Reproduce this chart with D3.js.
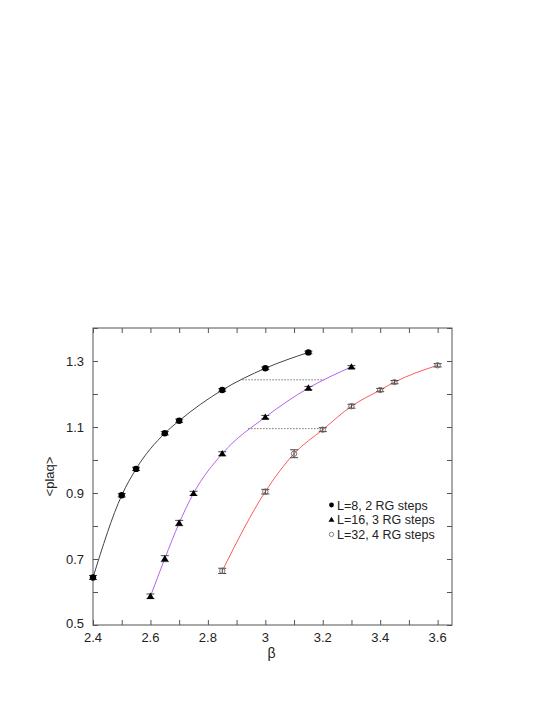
<!DOCTYPE html>
<html><head><meta charset="utf-8">
<script src="https://cdn.jsdelivr.net/npm/d3@7"></script>
<style>body{margin:0;background:#fff}svg{display:block}text{font-family:"Liberation Sans",Arial,sans-serif}</style>
</head><body>
<svg id="c" width="545" height="705"></svg>
<script>
const beta8 = [2.4, 2.5, 2.55, 2.65, 2.7, 2.85, 3.0, 3.15];
const plaq8 = [0.644, 0.893, 0.973, 1.081, 1.119, 1.212, 1.278, 1.326];
const err8  = [0.006, 0.005, 0.005, 0.005, 0.005, 0.004, 0.004, 0.004];
const beta16 = [2.6, 2.65, 2.7, 2.75, 2.85, 3.0, 3.15, 3.3];
const plaq16 = [0.587, 0.701, 0.809, 0.899, 1.019, 1.130, 1.218, 1.282];
const err16  = [0.007, 0.009, 0.008, 0.006, 0.006, 0.005, 0.005, 0.004];
const beta32 = [2.85, 3.0, 3.1, 3.2, 3.3, 3.4, 3.45, 3.6];
const plaq32 = [0.664, 0.904, 1.019, 1.092, 1.163, 1.212, 1.236, 1.287];
const err32  = [0.008, 0.007, 0.012, 0.006, 0.006, 0.005, 0.005, 0.005];
const seriesNames = ["L=8, 2 RG steps", "L=16, 3 RG steps", "L=32, 4 RG steps"];
const xTicks = [2.4, 2.6, 2.8, 3.0, 3.2, 3.4, 3.6];
const yTicks = [0.5, 0.7, 0.9, 1.1, 1.3];
const dotted1 = {y: 1.243, x0: 2.92, x1: 3.205};
const dotted2 = {y: 1.095, x0: 2.94, x1: 3.20};

const svg = d3.select("#c");
const L = 93, R = 452, T = 328, B = 625;
const x = d3.scaleLinear().domain([2.4, 3.65]).range([L, R]);
const y = d3.scaleLinear().domain([0.5, 1.4]).range([B, T]);
const axisCol = "#555";

svg.append("rect").attr("x", L).attr("y", T).attr("width", R - L).attr("height", B - T)
  .attr("fill", "none").attr("stroke", axisCol).attr("stroke-width", 1);

const xt = d3.range(2.4, 3.65, 0.1).map(v => +v.toFixed(2));
const yt = d3.range(0.5, 1.401, 0.1).map(v => +v.toFixed(2));
function styleAx(g){ g.select(".domain").remove(); g.selectAll("line").attr("stroke", axisCol); g.selectAll("text").remove(); }
svg.append("g").attr("transform", `translate(0,${B})`).call(d3.axisTop(x).tickValues(xt).tickSize(5)).call(styleAx);
svg.append("g").attr("transform", `translate(0,${T})`).call(d3.axisBottom(x).tickValues(xt).tickSize(5)).call(styleAx);
svg.append("g").attr("transform", `translate(${L},0)`).call(d3.axisRight(y).tickValues(yt).tickSize(5)).call(styleAx);
svg.append("g").attr("transform", `translate(${R},0)`).call(d3.axisLeft(y).tickValues(yt).tickSize(5)).call(styleAx);

svg.append("g").selectAll("text").data(xTicks).join("text")
  .attr("x", d => x(d)).attr("y", B + 17).attr("text-anchor", "middle")
  .attr("font-size", 13).attr("fill", "#222").text(d => d3.format("")(d));
svg.append("g").selectAll("text").data(yTicks).join("text")
  .attr("x", L - 9).attr("y", d => y(d) + 4.5 - (d === 0.5 ? 2 : 0)).attr("text-anchor", "end")
  .attr("font-size", 13).attr("fill", "#222").text(d => d3.format(".1f")(d));

svg.append("text").attr("x", (L + R) / 2 - 1).attr("y", 658).attr("text-anchor", "middle")
  .attr("font-size", 14).attr("fill", "#222").text("β");
svg.append("text").attr("transform", `translate(54,${(T + B) / 2}) rotate(-90)`)
  .attr("text-anchor", "middle").attr("font-size", 13).attr("fill", "#222").text("<plaq>");

[dotted1, dotted2].forEach(d => {
  svg.append("line").attr("x1", x(d.x0)).attr("x2", x(d.x1)).attr("y1", y(d.y)).attr("y2", y(d.y))
    .attr("stroke", "#777").attr("stroke-width", 1).attr("stroke-dasharray", "1.5,1.5");
});

const series = [
  {b: beta8, p: plaq8, e: err8, col: "#444", sym: "circle"},
  {b: beta16, p: plaq16, e: err16, col: "#b464f0", sym: "triangle"},
  {b: beta32, p: plaq32, e: err32, col: "#ff5a5a", sym: "open"}
];
const line = d3.line().x(d => x(d[0])).y(d => y(d[1])).curve(d3.curveMonotoneX);
series.forEach(s => {
  const pts = s.b.map((b, i) => [b, s.p[i], s.e[i]]);
  svg.append("path").datum(pts).attr("d", line).attr("fill", "none").attr("stroke", s.col).attr("stroke-width", 1);
  const g = svg.append("g");
  pts.forEach(d => {
    const cx = x(d[0]), y0 = y(d[1] - d[2]), y1 = y(d[1] + d[2]);
    g.append("line").attr("x1", cx).attr("x2", cx).attr("y1", y0).attr("y2", y1).attr("stroke", "#444");
    g.append("line").attr("x1", cx - 4).attr("x2", cx + 4).attr("y1", y0).attr("y2", y0).attr("stroke", "#444");
    g.append("line").attr("x1", cx - 4).attr("x2", cx + 4).attr("y1", y1).attr("y2", y1).attr("stroke", "#444");
  });
  drawSym(g, s.sym, pts.map(d => [x(d[0]), y(d[1])]));
});

function drawSym(g, sym, xy) {
  xy.forEach(([cx, cy]) => {
    if (sym === "circle") g.append("circle").attr("cx", cx).attr("cy", cy).attr("r", 3.2).attr("fill", "#000");
    else if (sym === "triangle") g.append("path").attr("d", `M${cx},${cy - 3.7}L${cx + 3.7},${cy + 2.6}L${cx - 3.7},${cy + 2.6}Z`).attr("fill", "#000");
    else g.append("circle").attr("cx", cx).attr("cy", cy).attr("r", 2.7).attr("fill", "none").attr("stroke", "#666").attr("stroke-width", 0.9);
  });
}

const lg = svg.append("g");
const syms = ["circle", "triangle", "open"];
seriesNames.forEach((n, i) => {
  const ly = 505 + i * 14.7;
  if (syms[i] === "circle") lg.append("circle").attr("cx", 331.5).attr("cy", ly).attr("r", 2.4).attr("fill", "#000");
  else if (syms[i] === "triangle") lg.append("path").attr("d", `M331.5,${ly - 3}L334.5,${ly + 2}L328.5,${ly + 2}Z`).attr("fill", "#000");
  else lg.append("circle").attr("cx", 331.5).attr("cy", ly).attr("r", 2.2).attr("fill", "none").attr("stroke", "#666").attr("stroke-width", 0.8);
  lg.append("text").attr("x", 337).attr("y", ly + 4.5).attr("font-size", 12.5).attr("fill", "#222").text(n);
});
</script>
</body></html>
